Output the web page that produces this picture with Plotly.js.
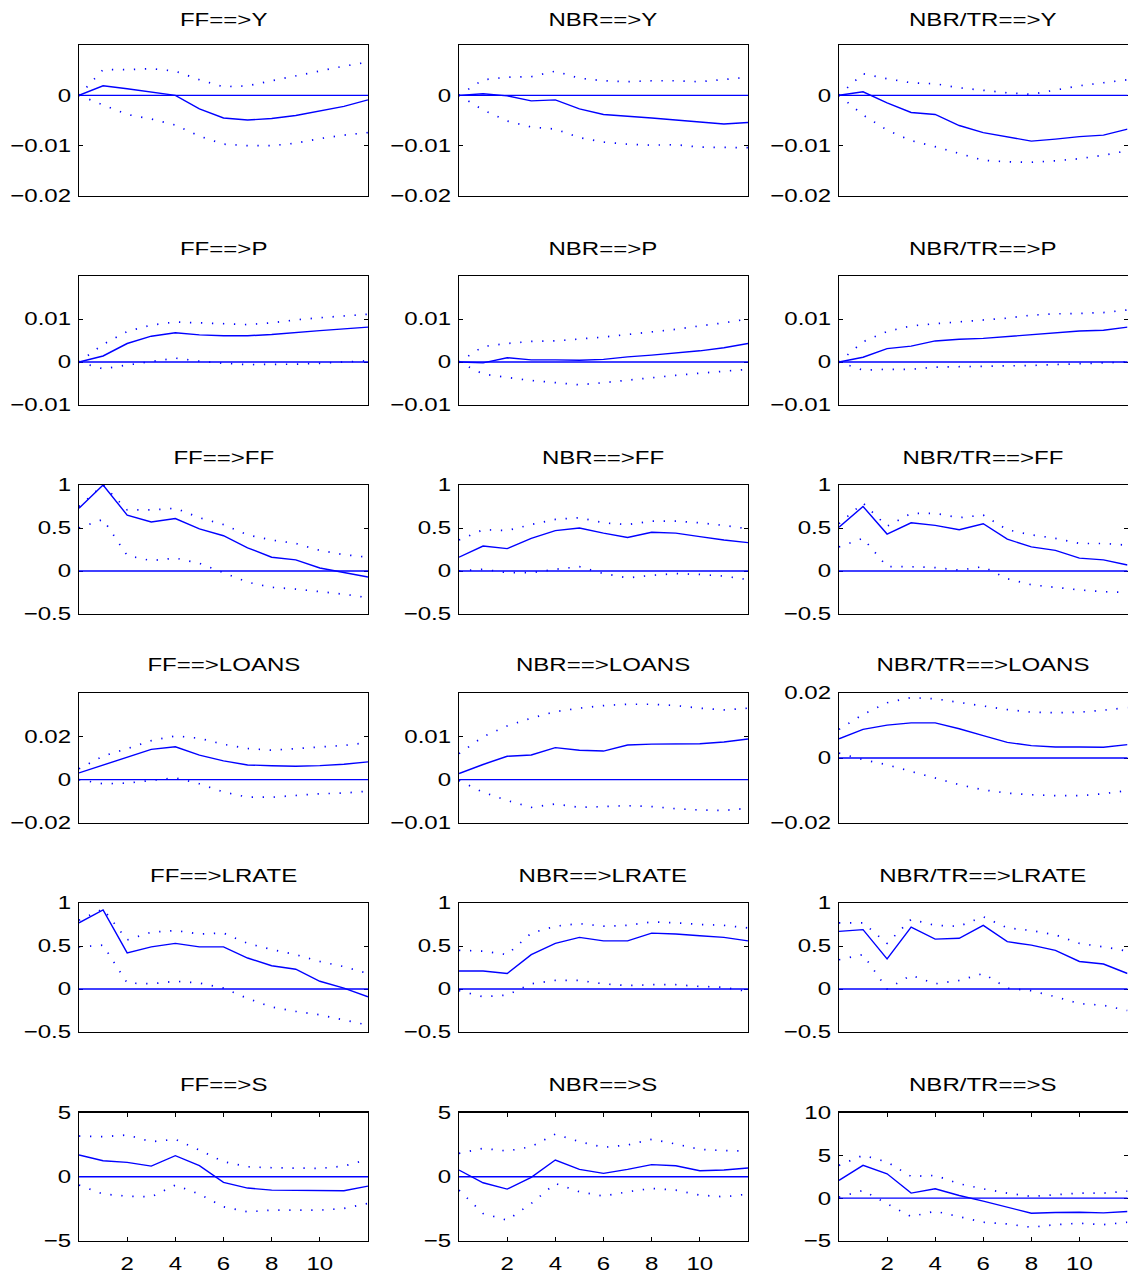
<!DOCTYPE html>
<html>
<head>
<meta charset="utf-8">
<script src="https://cdn.plot.ly/plotly-3.0.1.min.js"></script>
<style>html,body{margin:0;padding:0;background:#fff;}#chart{width:1128px;height:1277px;}</style>
</head>
<body>
<div id="chart"></div>
<script>
// Horizon (quarters)
const horizon = [0,1,2,3,4,5,6,7,8,9,10,11,12];
const shocks = ["FF", "NBR", "NBR/TR"];
const responses = ["Y", "P", "FF", "LOANS", "LRATE", "S"];
const xTickVals = [2,4,6,8,10];

// Row 1: Y
const ffY    = [0, 0.0019, 0.0013, 0.0007, 0, -0.0027, -0.0045, -0.0049, -0.0046, -0.0040, -0.0031, -0.0022, -0.0009];
const ffYUp  = [0, 0.0051, 0.0051, 0.0053, 0.0048, 0.0031, 0.0017, 0.0019, 0.0029, 0.0039, 0.0049, 0.0058, 0.0066];
const ffYLo  = [0, -0.0019, -0.0038, -0.0047, -0.0059, -0.0081, -0.0097, -0.0100, -0.0100, -0.0095, -0.0086, -0.0079, -0.0074];
const nbrY   = [0, 0.0003, -0.0001, -0.0011, -0.0009, -0.0027, -0.0038, -0.0041, -0.0045, -0.0049, -0.0053, -0.0057, -0.0054];
const nbrYUp = [0, 0.0031, 0.0036, 0.0037, 0.0048, 0.0034, 0.0029, 0.0027, 0.0029, 0.0029, 0.0027, 0.0031, 0.0036];
const nbrYLo = [0, -0.0029, -0.0051, -0.0063, -0.0067, -0.0084, -0.0093, -0.0097, -0.0099, -0.0098, -0.0103, -0.0104, -0.0104];
const trY    = [0, 0.0007, -0.0015, -0.0034, -0.0038, -0.0060, -0.0074, -0.0082, -0.0091, -0.0087, -0.0082, -0.0079, -0.0067];
const trYUp  = [0, 0.0043, 0.0033, 0.0025, 0.0023, 0.0015, 0.0010, 0.0005, 0.0002, 0.0010, 0.0019, 0.0025, 0.0031];
const trYLo  = [0, -0.0039, -0.0069, -0.0090, -0.0102, -0.0115, -0.0129, -0.0132, -0.0133, -0.0130, -0.0126, -0.0119, -0.0110];

// Row 2: P
const ffP    = [0, 0.0014, 0.0043, 0.0060, 0.0068, 0.0063, 0.0061, 0.0061, 0.0064, 0.0069, 0.0073, 0.0077, 0.0081];
const ffPUp  = [0, 0.0041, 0.0071, 0.0086, 0.0093, 0.0091, 0.0088, 0.0087, 0.0091, 0.0098, 0.0103, 0.0107, 0.0111];
const ffPLo  = [0, -0.0016, -0.0007, 0.0001, 0.0009, 0.0002, -0.0003, -0.0006, -0.0006, -0.0005, -0.0003, 0, 0.0003];
const nbrP   = [0, -0.0002, 0.0010, 0.0005, 0.0005, 0.0004, 0.0006, 0.0012, 0.0016, 0.0021, 0.0026, 0.0033, 0.0043];
const nbrPUp = [0, 0.0036, 0.0043, 0.0048, 0.0049, 0.0053, 0.0058, 0.0064, 0.0070, 0.0076, 0.0084, 0.0091, 0.0100];
const nbrPLo = [0, -0.0028, -0.0036, -0.0043, -0.0048, -0.0053, -0.0048, -0.0042, -0.0036, -0.0031, -0.0026, -0.0022, -0.0017];
const trP    = [0, 0.0011, 0.0031, 0.0037, 0.0049, 0.0053, 0.0055, 0.0059, 0.0063, 0.0067, 0.0072, 0.0074, 0.0081];
const trPUp  = [0, 0.0047, 0.0071, 0.0084, 0.0089, 0.0093, 0.0098, 0.0102, 0.0109, 0.0112, 0.0113, 0.0115, 0.0121];
const trPLo  = [0, -0.0019, -0.0017, -0.0017, -0.0012, -0.0011, -0.0011, -0.0009, -0.0008, -0.0006, -0.0004, -0.0003, 0];

// Row 3: FF
const ffFF    = [0.73, 1.00, 0.65, 0.57, 0.61, 0.49, 0.41, 0.27, 0.16, 0.13, 0.035, -0.02, -0.07];
const ffFFUp  = [0.75, 1.00, 0.71, 0.71, 0.73, 0.62, 0.54, 0.42, 0.36, 0.32, 0.24, 0.19, 0.16];
const ffFFLo  = [0.50, 0.60, 0.18, 0.12, 0.15, 0.09, -0.02, -0.13, -0.19, -0.21, -0.24, -0.27, -0.31];
const nbrFF   = [0.16, 0.29, 0.26, 0.38, 0.47, 0.50, 0.44, 0.39, 0.45, 0.44, 0.40, 0.36, 0.33];
const nbrFFUp = [0.36, 0.48, 0.47, 0.54, 0.60, 0.62, 0.56, 0.54, 0.58, 0.58, 0.56, 0.53, 0.49];
const nbrFFLo = [0.00, 0.02, -0.02, -0.02, 0.02, 0.05, -0.03, -0.08, -0.05, -0.03, -0.04, -0.06, -0.10];
const trFF    = [0.51, 0.75, 0.43, 0.56, 0.53, 0.48, 0.55, 0.37, 0.28, 0.24, 0.15, 0.13, 0.07];
const trFFUp  = [0.55, 0.79, 0.52, 0.67, 0.67, 0.62, 0.65, 0.48, 0.42, 0.38, 0.32, 0.32, 0.30];
const trFFLo  = [0.28, 0.38, 0.05, 0.05, 0.04, 0.01, 0.05, -0.09, -0.16, -0.19, -0.22, -0.24, -0.25];

// Row 4: LOANS
const ffL    = [0.0031, 0.0067, 0.0101, 0.0140, 0.0152, 0.0113, 0.0087, 0.0068, 0.0064, 0.0062, 0.0065, 0.0071, 0.0082];
const ffLUp  = [0.0050, 0.0109, 0.0143, 0.0180, 0.0202, 0.0191, 0.0163, 0.0144, 0.0136, 0.0143, 0.0152, 0.0158, 0.0171];
const ffLLo  = [0, -0.0019, -0.0016, -0.0003, 0.0009, -0.0019, -0.0057, -0.0081, -0.0081, -0.0073, -0.0065, -0.0062, -0.0053];
const nbrL   = [0.0014, 0.0035, 0.0054, 0.0057, 0.0074, 0.0068, 0.0066, 0.0080, 0.0082, 0.0083, 0.0083, 0.0087, 0.0094];
const nbrLUp = [0.0060, 0.0099, 0.0124, 0.0142, 0.0157, 0.0165, 0.0171, 0.0174, 0.0174, 0.0171, 0.0165, 0.0161, 0.0165];
const nbrLLo = [-0.0002, -0.0029, -0.0048, -0.0064, -0.0056, -0.0064, -0.0062, -0.0060, -0.0062, -0.0067, -0.0070, -0.0071, -0.0066];
const trL    = [0.0059, 0.0088, 0.0101, 0.0108, 0.0108, 0.0090, 0.0069, 0.0048, 0.0038, 0.0034, 0.0034, 0.0033, 0.0041];
const trLUp  = [0.0088, 0.0134, 0.0170, 0.0186, 0.0182, 0.0172, 0.0160, 0.0149, 0.0141, 0.0139, 0.0141, 0.0147, 0.0155];
const trLLo  = [0.0015, -0.0005, -0.0021, -0.0041, -0.0062, -0.0082, -0.0098, -0.0108, -0.0113, -0.0116, -0.0116, -0.0110, -0.0100];

// Row 5: LRATE
const ffLR    = [0.77, 0.92, 0.42, 0.49, 0.53, 0.49, 0.49, 0.36, 0.27, 0.23, 0.09, 0.01, -0.09];
const ffLRUp  = [0.80, 0.93, 0.57, 0.66, 0.68, 0.64, 0.65, 0.53, 0.46, 0.40, 0.32, 0.26, 0.18];
const ffLRLo  = [0.49, 0.51, 0.07, 0.06, 0.09, 0.07, 0.01, -0.11, -0.21, -0.26, -0.30, -0.36, -0.42];
const nbrLR   = [0.21, 0.21, 0.18, 0.40, 0.53, 0.60, 0.56, 0.56, 0.65, 0.64, 0.62, 0.60, 0.56];
const nbrLRUp = [0.45, 0.44, 0.40, 0.65, 0.73, 0.76, 0.73, 0.74, 0.78, 0.77, 0.75, 0.74, 0.71];
const nbrLRLo = [-0.02, -0.09, -0.07, 0.06, 0.10, 0.10, 0.06, 0.04, 0.05, 0.05, 0.03, 0.02, -0.03];
const trLR    = [0.67, 0.69, 0.35, 0.72, 0.58, 0.59, 0.74, 0.55, 0.51, 0.45, 0.32, 0.29, 0.18];
const trLRUp  = [0.77, 0.77, 0.53, 0.81, 0.74, 0.73, 0.84, 0.71, 0.68, 0.63, 0.53, 0.49, 0.44];
const trLRLo  = [0.34, 0.40, 0.00, 0.16, 0.06, 0.10, 0.18, 0.01, -0.02, -0.09, -0.17, -0.19, -0.25];

// Row 6: S
const ffS    = [1.69, 1.25, 1.12, 0.83, 1.64, 0.86, -0.44, -0.88, -1.04, -1.06, -1.09, -1.09, -0.73];
const ffSUp  = [3.17, 3.12, 3.25, 2.73, 2.91, 2.08, 1.17, 0.78, 0.70, 0.70, 0.65, 0.83, 1.35];
const ffSLo  = [-0.65, -1.35, -1.51, -1.56, -0.65, -1.35, -2.34, -2.73, -2.60, -2.60, -2.60, -2.47, -2.08];
const nbrS   = [0.52, -0.47, -0.96, -0.05, 1.30, 0.57, 0.26, 0.57, 0.94, 0.86, 0.47, 0.52, 0.68];
const nbrSUp = [1.82, 2.21, 2.00, 2.34, 3.32, 2.73, 2.29, 2.47, 2.91, 2.55, 2.13, 2.03, 2.00];
const nbrSLo = [-1.04, -2.86, -3.38, -2.08, -0.52, -1.17, -1.51, -1.17, -0.91, -1.04, -1.43, -1.56, -1.35];
const trS    = [2.07, 3.83, 2.85, 0.59, 1.09, 0.31, -0.35, -1.05, -1.76, -1.68, -1.64, -1.72, -1.56];
const trSUp  = [3.83, 5.00, 4.22, 2.54, 2.66, 1.68, 1.09, 0.59, 0.20, 0.43, 0.59, 0.59, 0.82];
const trSLo  = [0.12, 0.90, -0.66, -2.15, -1.52, -2.15, -2.81, -3.01, -3.40, -3.09, -2.93, -3.09, -2.81];

// Panel series grid [row][col] = [irf, upper, lower]
const series = [
  [[ffY, ffYUp, ffYLo], [nbrY, nbrYUp, nbrYLo], [trY, trYUp, trYLo]],
  [[ffP, ffPUp, ffPLo], [nbrP, nbrPUp, nbrPLo], [trP, trPUp, trPLo]],
  [[ffFF, ffFFUp, ffFFLo], [nbrFF, nbrFFUp, nbrFFLo], [trFF, trFFUp, trFFLo]],
  [[ffL, ffLUp, ffLLo], [nbrL, nbrLUp, nbrLLo], [trL, trLUp, trLLo]],
  [[ffLR, ffLRUp, ffLRLo], [nbrLR, nbrLRUp, nbrLRLo], [trLR, trLRUp, trLRLo]],
  [[ffS, ffSUp, ffSLo], [nbrS, nbrSUp, nbrSLo], [trS, trSUp, trSLo]]
];

// Axis scales per panel
const yRanges = [
  [[-0.02,0.01],[-0.02,0.01],[-0.02,0.01]],
  [[-0.01,0.02],[-0.01,0.02],[-0.01,0.02]],
  [[-0.5,1],[-0.5,1],[-0.5,1]],
  [[-0.02,0.04],[-0.01,0.02],[-0.02,0.02]],
  [[-0.5,1],[-0.5,1],[-0.5,1]],
  [[-5,5],[-5,5],[-5,10]]
];
const yTicks = [
  [[-0.02,-0.01,0],[-0.02,-0.01,0],[-0.02,-0.01,0]],
  [[-0.01,0,0.01],[-0.01,0,0.01],[-0.01,0,0.01]],
  [[-0.5,0,0.5,1],[-0.5,0,0.5,1],[-0.5,0,0.5,1]],
  [[-0.02,0,0.02],[-0.01,0,0.01],[-0.02,0,0.02]],
  [[-0.5,0,0.5,1],[-0.5,0,0.5,1],[-0.5,0,0.5,1]],
  [[-5,0,5],[-5,0,5],[-5,0,5,10]]
];

// Geometry (pixels)
const W = 1128, H = 1277;
const colPx = [[79,368],[459,748],[839,1127.5]];
const rowPx = [[45,196],[276,405],[485,614],[693,823],[903,1032],[1112.5,1241]];
const titleGap = [25, 28, 28, 28, 28, 28];

const BLUE = '#0000ff';
const FONT = 'Liberation Sans, Arial, Helvetica, sans-serif';
const FS = 18.5;
const STRETCH = 1.3;   // reference glyphs are horizontally wide
const traces = [];
const layout = {
  width: W, height: H,
  margin: {l:0, r:0, t:0, b:0},
  paper_bgcolor: '#fff', plot_bgcolor: '#fff',
  showlegend: false,
  font: {family: FONT, size: FS, color: '#000'},
  annotations: [], shapes: []
};

let k = 0;
for (let r = 0; r < 6; r++) {
  for (let c = 0; c < 3; c++) {
    k++;
    const xa = 'x' + (k === 1 ? '' : k), ya = 'y' + (k === 1 ? '' : k);
    const xkey = 'xaxis' + (k === 1 ? '' : k), ykey = 'yaxis' + (k === 1 ? '' : k);
    const [irf, up, lo] = series[r][c];
    traces.push({x: horizon, y: up, xaxis: xa, yaxis: ya, mode: 'lines', line: {color: BLUE, width: 1.7, dash: '1.3px,9.7px'}, hoverinfo: 'skip'});
    traces.push({x: horizon, y: lo, xaxis: xa, yaxis: ya, mode: 'lines', line: {color: BLUE, width: 1.7, dash: '1.3px,9.7px'}, hoverinfo: 'skip'});
    traces.push({x: horizon, y: irf, xaxis: xa, yaxis: ya, mode: 'lines', line: {color: BLUE, width: 1.4}});
    const last = (r === 5);
    layout[xkey] = {
      domain: [colPx[c][0]/W, colPx[c][1]/W],
      anchor: ya, range: [0, 12], fixedrange: true,
      showgrid: false, zeroline: false,
      showline: true, linecolor: '#000', linewidth: 1.2, mirror: last ? 'ticks' : true,
      ticks: last ? 'inside' : '', ticklen: 4, tickcolor: '#000', tickwidth: 1,
      tickvals: xTickVals, showticklabels: last, ticklabelstandoff: 6,
      tickfont: {family: FONT, size: FS, color: '#000'},
      automargin: false
    };
    layout[ykey] = {
      domain: [1 - rowPx[r][1]/H, 1 - rowPx[r][0]/H],
      anchor: xa, range: yRanges[r][c], fixedrange: true,
      showgrid: false, zeroline: false,
      showline: true, linecolor: '#000', linewidth: 1.2, mirror: 'ticks',
      ticks: 'inside', ticklen: 4, tickcolor: '#000', tickwidth: 1,
      tickvals: yTicks[r][c], ticklabelstandoff: 3,
      tickfont: {family: FONT, size: FS, color: '#000'},
      automargin: false
    };
    layout.shapes.push({type: 'line', xref: xa + ' domain', x0: 0, x1: 1, yref: ya, y0: 0, y1: 0, line: {color: BLUE, width: 1.4}, layer: 'above'});
    layout.annotations.push({
      text: shocks[c] + '==>' + responses[r],
      xref: 'paper', yref: 'paper',
      x: (colPx[c][0] + colPx[c][1]) / 2 / W,
      y: 1 - (rowPx[r][0] - titleGap[r]) / H,
      xanchor: 'center', yanchor: 'middle', showarrow: false,
      font: {family: FONT, size: FS, color: '#000'}
    });
  }
}

Plotly.newPlot('chart', traces, layout, {staticPlot: true, displayModeBar: false}).then(function (gd) {
  // widen glyphs horizontally around each label's anchor point
  gd.querySelectorAll('g.xaxislayer-above text, g.yaxislayer-above text, text.annotation-text').forEach(function (t) {
    const x = parseFloat(t.getAttribute('x')) || 0;
    const y = parseFloat(t.getAttribute('y')) || 0;
    const tr = t.getAttribute('transform') || '';
    t.setAttribute('transform', tr + ' translate(' + x + ',' + y + ') scale(' + STRETCH + ',1) translate(' + (-x) + ',' + (-y) + ')');
  });
});
</script>
</body>
</html>
